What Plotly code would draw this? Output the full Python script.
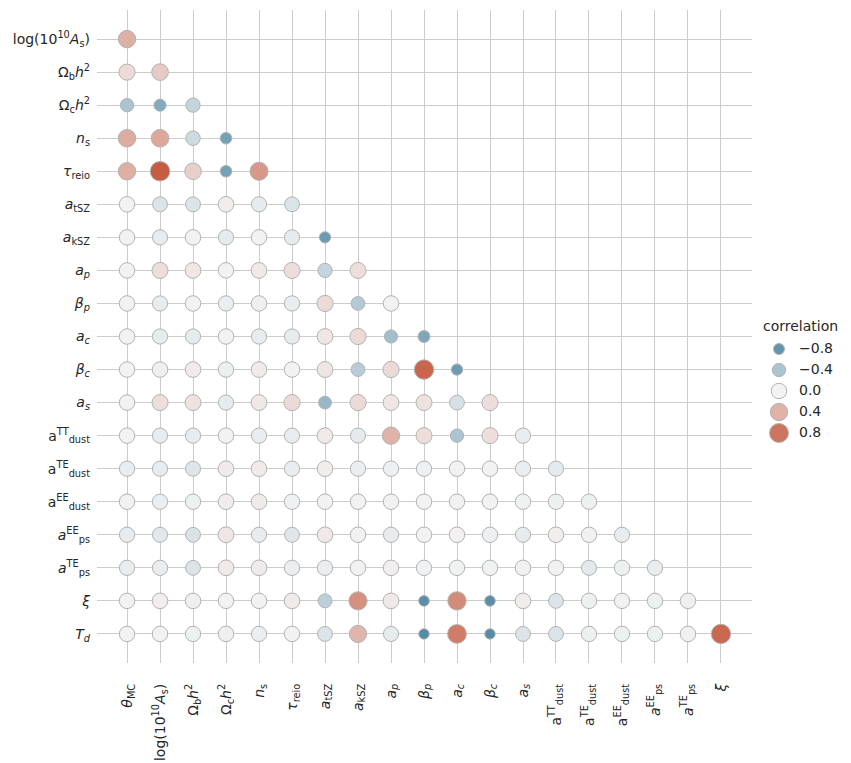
import math
import numpy as np
import plotly.graph_objects as go

# ---------------- data ----------------
param_labels = [
    "<i>θ</i><sub>MC</sub>",
    "log(10<sup>10</sup><i>A</i><sub>s</sub>)",
    "Ω<sub>b</sub><i>h</i><sup>2</sup>",
    "Ω<sub>c</sub><i>h</i><sup>2</sup>",
    "<i>n</i><sub>s</sub>",
    "<i>τ</i><sub>reio</sub>",
    "<i>a</i><sub>tSZ</sub>",
    "<i>a</i><sub>kSZ</sub>",
    "<i>a<sub>p</sub></i>",
    "<i>β<sub>p</sub></i>",
    "<i>a<sub>c</sub></i>",
    "<i>β<sub>c</sub></i>",
    "<i>a<sub>s</sub></i>",
    "a<sup>TT</sup><sub>dust</sub>",
    "a<sup>TE</sup><sub>dust</sub>",
    "a<sup>EE</sup><sub>dust</sub>",
    "<i>a</i><sup>EE</sup><sub>ps</sub>",
    "<i>a</i><sup>TE</sup><sub>ps</sub>",
    "<i>ξ</i>",
    "<i>T<sub>d</sub></i>",
]
col_labels = param_labels[:-1]
row_labels = param_labels[1:]

# lower-triangular correlation rows (row i has i+1 entries)
corr_rows = [
    [0.42],
    [0.15, 0.25],
    [-0.40, -0.62, -0.25],
    [0.45, 0.47, -0.20, -0.70],
    [0.42, 0.95, 0.22, -0.70, 0.57],
    [0.0, -0.12, -0.12, 0.03, -0.06, -0.12],
    [0.0, -0.06, 0.0, -0.06, 0.0, -0.06, -0.75],
    [0.0, 0.12, 0.07, 0.0, 0.05, 0.12, -0.25, 0.12],
    [0.0, -0.05, 0.0, -0.03, 0.02, -0.04, 0.15, -0.35, 0.0],
    [0.0, -0.06, -0.06, 0.0, -0.05, -0.06, 0.07, 0.15, -0.45, -0.65],
    [0.0, 0.02, 0.04, -0.02, 0.04, 0.0, 0.08, -0.33, 0.15, 0.90, -0.75],
    [0.0, 0.12, 0.10, -0.06, 0.06, 0.15, -0.50, 0.15, 0.07, 0.10, -0.15, 0.12],
    [0.0, -0.05, -0.05, 0.0, -0.04, -0.05, 0.05, -0.07, 0.40, 0.12, -0.40, 0.12, -0.04],
    [-0.04, -0.05, -0.10, 0.04, 0.04, -0.04, 0.03, -0.03, -0.02, -0.02, 0.0, 0.0, -0.03, -0.07],
    [0.0, -0.03, -0.02, 0.03, 0.04, -0.01, 0.0, 0.0, 0.0, 0.0, 0.0, 0.0, -0.01, -0.02, -0.02],
    [-0.05, -0.08, -0.13, 0.07, -0.05, -0.10, 0.05, 0.0, -0.05, 0.0, 0.01, -0.02, -0.06, 0.03, -0.01, -0.05],
    [-0.04, -0.04, -0.12, 0.05, 0.04, -0.03, -0.03, 0.01, 0.02, -0.01, -0.01, -0.01, 0.01, -0.01, -0.08, -0.02, -0.04],
    [0.0, 0.03, 0.02, 0.0, 0.0, 0.04, -0.30, 0.62, 0.05, -0.85, 0.65, -0.85, 0.03, -0.12, -0.02, -0.01, -0.02, 0.02],
    [0.0, 0.0, -0.02, 0.02, -0.03, 0.0, -0.12, 0.38, -0.06, -0.88, 0.75, -0.88, -0.12, -0.12, -0.02, -0.02, -0.02, 0.01, 0.88],
]
legend_title = "correlation"
legend_values = [-0.8, -0.4, 0.0, 0.4, 0.8]
legend_texts = ["\u22120.8", "\u22120.4", "0.0", "0.4", "0.8"]

# ---------------- colour palette (seaborn diverging_palette(230, 20)) ----------------
M = [[3.240969941904521, -1.537383177570093, -0.498610760293],
     [-0.96924363628087, 1.87596750150772, 0.041555057407175],
     [0.055630079696993, -0.20397695888897, 1.056971514242878]]
KAPPA = 903.2962962
EPS = 0.0088564516
REF_U, REF_V = 0.19783000664283, 0.46831999493879


def _bounds(L):
    sub1 = (L + 16) ** 3 / 1560896
    sub2 = sub1 if sub1 > EPS else L / KAPPA
    out = []
    for m1, m2, m3 in M:
        for t in (0, 1):
            top1 = (284517 * m1 - 94839 * m3) * sub2
            top2 = (838422 * m3 + 769860 * m2 + 731718 * m1) * L * sub2 - 769860 * t * L
            bottom = (632260 * m3 - 126452 * m2) * sub2 + 126452 * t
            out.append((top1 / bottom, top2 / bottom))
    return out


def _max_chroma(L, H):
    hr = H / 360 * 2 * math.pi
    best = float("inf")
    for slope, inter in _bounds(L):
        ln = inter / (math.sin(hr) - slope * math.cos(hr))
        if ln >= 0:
            best = min(best, ln)
    return best


def husl_to_rgb(H, S, L):
    C = 0 if (L > 99.9999 or L < 1e-8) else _max_chroma(L, H) / 100 * S
    hr = math.radians(H)
    U, V = C * math.cos(hr), C * math.sin(hr)
    Y = L / KAPPA if L <= 8 else ((L + 16) / 116) ** 3
    vu = U / (13 * L) + REF_U
    vv = V / (13 * L) + REF_V
    X = 0 - (9 * Y * vu) / ((vu - 4) * vv - vu * vv)
    Z = (9 * Y - 15 * vv * Y - vv * X) / (3 * vv)
    rgb = []
    for row in M:
        c = row[0] * X + row[1] * Y + row[2] * Z
        c = 12.92 * c if c <= 0.0031308 else 1.055 * c ** (1 / 2.4) - 0.055
        rgb.append(min(max(c, 0), 1))
    return rgb


def hexc(rgb):
    return "rgb({},{},{})".format(*[int(round(v * 255)) for v in rgb])


blue_end = husl_to_rgb(230, 75, 50)
red_end = husl_to_rgb(20, 75, 50)
blue_gray = husl_to_rgb(230, 75 * 0.15, 95)
red_gray = husl_to_rgb(20, 75 * 0.15, 95)
colorscale = [
    [0.0, hexc(blue_end)],
    [127 / 256, hexc(blue_gray)],
    [0.5, hexc([0.95, 0.95, 0.95])],
    [129 / 256, hexc(red_gray)],
    [1.0, hexc(red_end)],
]


def msize(v):
    return np.sqrt(272 + 160 * np.asarray(v, dtype=float)) - 1


EDGE = dict(color="rgb(179,179,179)", width=1)
TXT = "#262626"
FS = 14

# ---------------- build traces ----------------
xs, ys, vals = [], [], []
for i, row in enumerate(corr_rows):
    for j, v in enumerate(row):
        xs.append(col_labels[j])
        ys.append(row_labels[i])
        vals.append(v)
vals = np.array(vals)

fig = go.Figure()
fig.add_trace(go.Scatter(
    x=xs, y=ys, mode="markers", showlegend=False,
    marker=dict(size=msize(vals), color=vals, colorscale=colorscale, cmin=-1, cmax=1,
                line=EDGE, opacity=1),
    hovertemplate="%{x} / %{y}: %{marker.color:.2f}<extra></extra>",
))

# size/hue legend drawn on its own small axis to the right
leg_idx = list(range(len(legend_values)))
fig.add_trace(go.Scatter(
    x=[0] * len(legend_values), y=leg_idx, mode="markers", showlegend=False,
    xaxis="x2", yaxis="y2", hoverinfo="skip",
    marker=dict(size=msize(legend_values), color=legend_values, colorscale=colorscale,
                cmin=-1, cmax=1, line=EDGE, opacity=1),
))
fig.add_trace(go.Scatter(
    x=[20] * len(legend_values), y=leg_idx, mode="text", text=legend_texts,
    textposition="middle right", showlegend=False, xaxis="x2", yaxis="y2",
    hoverinfo="skip", textfont=dict(size=FS, color=TXT, family="DejaVu Sans"),
))
fig.add_trace(go.Scatter(
    x=[-16], y=[-1.02], mode="text", text=[legend_title], textposition="middle right",
    showlegend=False, xaxis="x2", yaxis="y2", hoverinfo="skip",
    textfont=dict(size=FS, color=TXT, family="DejaVu Sans"),
))

W, H = 851, 763
ML, MR, MT, MB = 97, 0, 10, 100
pw = W - ML - MR
ph = H - MT - MB
main_right = 752
leg_left = 760
row_px = 21.0
leg_first = 349

fig.update_layout(
    width=W, height=H,
    margin=dict(l=ML, r=MR, t=MT, b=MB, autoexpand=False),
    paper_bgcolor="white", plot_bgcolor="white",
    font=dict(family="DejaVu Sans", size=FS, color=TXT),
    showlegend=False,
    xaxis=dict(
        domain=[0, (main_right - ML) / pw],
        type="category", categoryorder="array", categoryarray=col_labels,
        range=[-0.91, 18.94], showgrid=True, gridcolor="#cccccc", gridwidth=1,
        showline=False, zeroline=False, ticks="", tickangle=-90, automargin=False,
        ticklabelstandoff=17, tickfont=dict(size=FS, color=TXT),
    ),
    yaxis=dict(
        type="category", categoryorder="array", categoryarray=row_labels,
        range=[18.88, -0.88], showgrid=True, gridcolor="#cccccc", gridwidth=1,
        showline=False, zeroline=False, ticks="", automargin=False,
        ticklabelstandoff=6, tickfont=dict(size=FS, color=TXT),
    ),
    xaxis2=dict(
        domain=[(leg_left - ML) / pw, 1], anchor="y2",
        range=[-19, -19 + (W - leg_left)], visible=False, fixedrange=True,
    ),
    yaxis2=dict(
        domain=[0, 1], anchor="x2",
        range=[(MT + ph - leg_first) / row_px, -(leg_first - MT) / row_px],
        visible=False, fixedrange=True,
    ),
)

fig.write_html("out.html")
